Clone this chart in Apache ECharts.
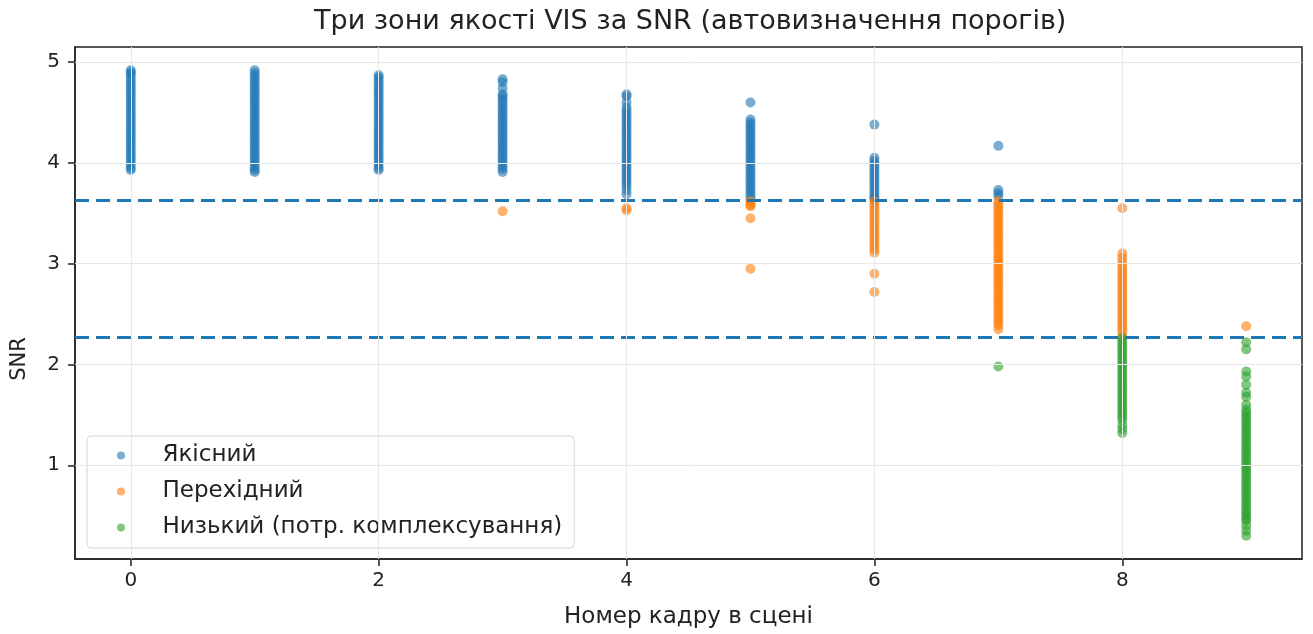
<!DOCTYPE html>
<html>
<head>
<meta charset="utf-8">
<script src="https://cdn.jsdelivr.net/npm/echarts@6/dist/echarts.min.js"></script>
<style>html,body{margin:0;padding:0;background:#fff;}#chart{width:1313px;height:634px;}</style>
</head>
<body>
<div id="chart"></div>
<script>
const titleText = 'Три зони якості VIS за SNR (автовизначення порогів)';
const xLabel = 'Номер кадру в сцені';
const yLabel = 'SNR';
const seriesNames = ['Якісний', 'Перехідний', 'Низький (потр. комплексування)'];
const frames = [0, 1, 2, 3, 4, 5, 6, 7, 8, 9];
const thresholds = [3.63, 2.27];

// SNR values per frame, quality zone
const qualitySNR = [
  [4.92,4.90,4.88,4.85,4.82,4.79,4.76,4.73,4.70,4.67,4.64,4.61,4.58,4.55,4.52,4.49,4.46,4.43,4.40,4.37,4.34,4.31,4.28,4.25,4.22,4.19,4.16,4.13,4.10,4.07,4.04,4.01,3.98,3.95,3.93],
  [4.92,4.89,4.86,4.83,4.80,4.77,4.74,4.71,4.68,4.65,4.62,4.59,4.56,4.53,4.50,4.47,4.44,4.41,4.38,4.35,4.32,4.29,4.26,4.23,4.20,4.17,4.14,4.11,4.08,4.05,4.02,3.99,3.96,3.93,3.91],
  [4.87,4.85,4.82,4.79,4.76,4.73,4.70,4.67,4.64,4.61,4.58,4.55,4.52,4.49,4.46,4.43,4.40,4.37,4.34,4.31,4.28,4.25,4.22,4.19,4.16,4.13,4.10,4.07,4.04,4.01,3.98,3.95,3.93],
  [4.83,4.80,4.74,4.68,4.66,4.63,4.60,4.57,4.54,4.51,4.48,4.45,4.42,4.39,4.36,4.33,4.30,4.27,4.24,4.21,4.18,4.15,4.12,4.09,4.06,4.03,4.00,3.97,3.94,3.91],
  [4.68,4.66,4.60,4.55,4.52,4.49,4.46,4.43,4.40,4.37,4.34,4.31,4.28,4.25,4.22,4.19,4.16,4.13,4.10,4.07,4.04,4.01,3.98,3.95,3.92,3.89,3.86,3.83,3.80,3.77,3.73,3.69],
  [4.60,4.43,4.40,4.37,4.34,4.31,4.28,4.25,4.22,4.19,4.16,4.13,4.10,4.07,4.04,4.01,3.98,3.95,3.92,3.89,3.86,3.83,3.80,3.77,3.74,3.71,3.68,3.65],
  [4.38,4.05,4.02,3.99,3.96,3.93,3.90,3.87,3.84,3.81,3.78,3.75,3.72,3.69,3.66,3.64],
  [4.17,3.73,3.70,3.67],
  [],
  []
];
// transition zone
const transitionSNR = [
  [],
  [],
  [],
  [3.52],
  [3.55,3.53],
  [3.62,3.60,3.58,3.57,3.45,2.95],
  [3.62,3.59,3.56,3.53,3.50,3.47,3.44,3.41,3.38,3.35,3.32,3.29,3.26,3.23,3.20,3.17,3.14,3.11,2.90,2.72],
  [3.62,3.59,3.56,3.53,3.50,3.47,3.44,3.41,3.38,3.35,3.32,3.29,3.26,3.23,3.20,3.17,3.14,3.11,3.08,3.05,3.02,2.99,2.96,2.93,2.90,2.87,2.84,2.81,2.78,2.75,2.72,2.69,2.66,2.63,2.60,2.57,2.54,2.51,2.48,2.45,2.42,2.39,2.35],
  [3.55,3.10,3.06,3.02,2.98,2.95,2.92,2.89,2.86,2.83,2.80,2.77,2.74,2.71,2.68,2.65,2.62,2.59,2.56,2.53,2.50,2.47,2.44,2.41,2.38,2.35,2.32,2.28],
  [2.38]
];
// low zone
const lowSNR = [
  [],
  [],
  [],
  [],
  [],
  [],
  [],
  [1.98],
  [2.26,2.23,2.20,2.17,2.14,2.11,2.08,2.05,2.02,1.99,1.96,1.93,1.90,1.87,1.84,1.81,1.78,1.75,1.72,1.69,1.66,1.63,1.60,1.57,1.54,1.51,1.48,1.45,1.40,1.36,1.32],
  [2.22,2.15,1.93,1.88,1.80,1.72,1.68,1.60,1.55,1.52,1.49,1.46,1.43,1.40,1.37,1.34,1.31,1.28,1.25,1.22,1.19,1.16,1.13,1.10,1.07,1.04,1.01,0.98,0.95,0.92,0.89,0.86,0.83,0.80,0.77,0.74,0.71,0.68,0.65,0.62,0.59,0.56,0.53,0.50,0.47,0.45,0.40,0.35,0.30]
];
const xTicks = [0, 2, 4, 6, 8];
const yTicks = [1, 2, 3, 4, 5];

const colors = ['#1f77b4', '#ff7f0e', '#2ca02c'];
function toPoints(cols) {
  const pts = [];
  cols.forEach((vals, i) => vals.forEach(v => pts.push([frames[i], v])));
  return pts;
}
const zoneData = [qualitySNR, transitionSNR, lowSNR];
const fontFam = '"DejaVu Sans", sans-serif';

const series = seriesNames.map((name, k) => ({
  name: name,
  type: 'scatter',
  symbol: 'circle',
  symbolSize: 10,
  itemStyle: { color: colors[k], opacity: 0.6 },
  data: toPoints(zoneData[k]),
  z: 3
}));
series.push({
  name: '__thr',
  type: 'line',
  data: [],
  markLine: {
    silent: true,
    symbol: ['none', 'none'],
    label: { show: false },
    lineStyle: { color: '#1f77b4', width: 3, type: [14, 7] },
    data: thresholds.map(t => ({ yAxis: t }))
  },
  z: 4
});
series.push({
  name: '__grid',
  type: 'line', data: [], silent: true, z: 1,
  markLine: {
    silent: true, symbol: ['none', 'none'], label: { show: false },
    lineStyle: { color: '#e8e8e8', width: 1, type: 'solid' },
    data: xTicks.map(v => ({ xAxis: v })).concat(yTicks.map(v => ({ yAxis: v })))
  }
});

const chart = echarts.init(document.getElementById('chart'), null, { renderer: 'canvas' });
chart.setOption({
  backgroundColor: '#fff',
  animation: false,
  title: {
    text: titleText,
    left: 314,
    top: 3,
    padding: [5, 0, 5, 0],
    textStyle: { fontFamily: fontFam, fontSize: 27, fontWeight: 'normal', color: '#222' }
  },
  legend: {
    data: seriesNames,
    orient: 'vertical',
    left: 87,
    top: 436,
    padding: [8, 12, 9, 30],
    itemGap: 13,
    itemWidth: 41,
    itemHeight: 8,
    icon: 'circle',
    backgroundColor: 'rgba(255,255,255,0.8)',
    borderColor: '#d6d6d6',
    borderWidth: 1,
    borderRadius: 4,
    textStyle: { fontFamily: fontFam, fontSize: 23, color: '#222', padding: [0, 0, 0, 16] }
  },
  grid: {
    left: 75, right: 11, top: 47, bottom: 73,
    show: true, borderColor: '#222', borderWidth: 1.5, backgroundColor: 'transparent'
  },
  xAxis: {
    type: 'value',
    min: -0.45, max: 9.45,
    name: xLabel,
    nameLocation: 'middle',
    nameGap: 47,
    nameTextStyle: { fontFamily: fontFam, fontSize: 23, color: '#222' },
    axisLine: { show: true, onZero: false, lineStyle: { color: '#222', width: 1.5 } },
    axisTick: { show: true, customValues: xTicks, length: 7, lineStyle: { color: '#222', width: 1.5 } },
    axisLabel: { customValues: xTicks, fontFamily: fontFam, fontSize: 20, color: '#222', margin: 12 },
    splitLine: { show: false }
  },
  yAxis: {
    type: 'value',
    min: 0.07, max: 5.15,
    name: yLabel,
    nameLocation: 'middle',
    nameGap: 45,
    nameTextStyle: { fontFamily: fontFam, fontSize: 21, color: '#222', padding: [0, 112, 0, 0] },
    axisLine: { show: true, onZero: false, lineStyle: { color: '#222', width: 1.5 } },
    axisTick: { show: true, customValues: yTicks, length: 7, lineStyle: { color: '#222', width: 1.5 } },
    axisLabel: { customValues: yTicks, fontFamily: fontFam, fontSize: 20, color: '#222', margin: 15 },
    splitLine: { show: false }
  },
  series: series
});
</script>
</body>
</html>
